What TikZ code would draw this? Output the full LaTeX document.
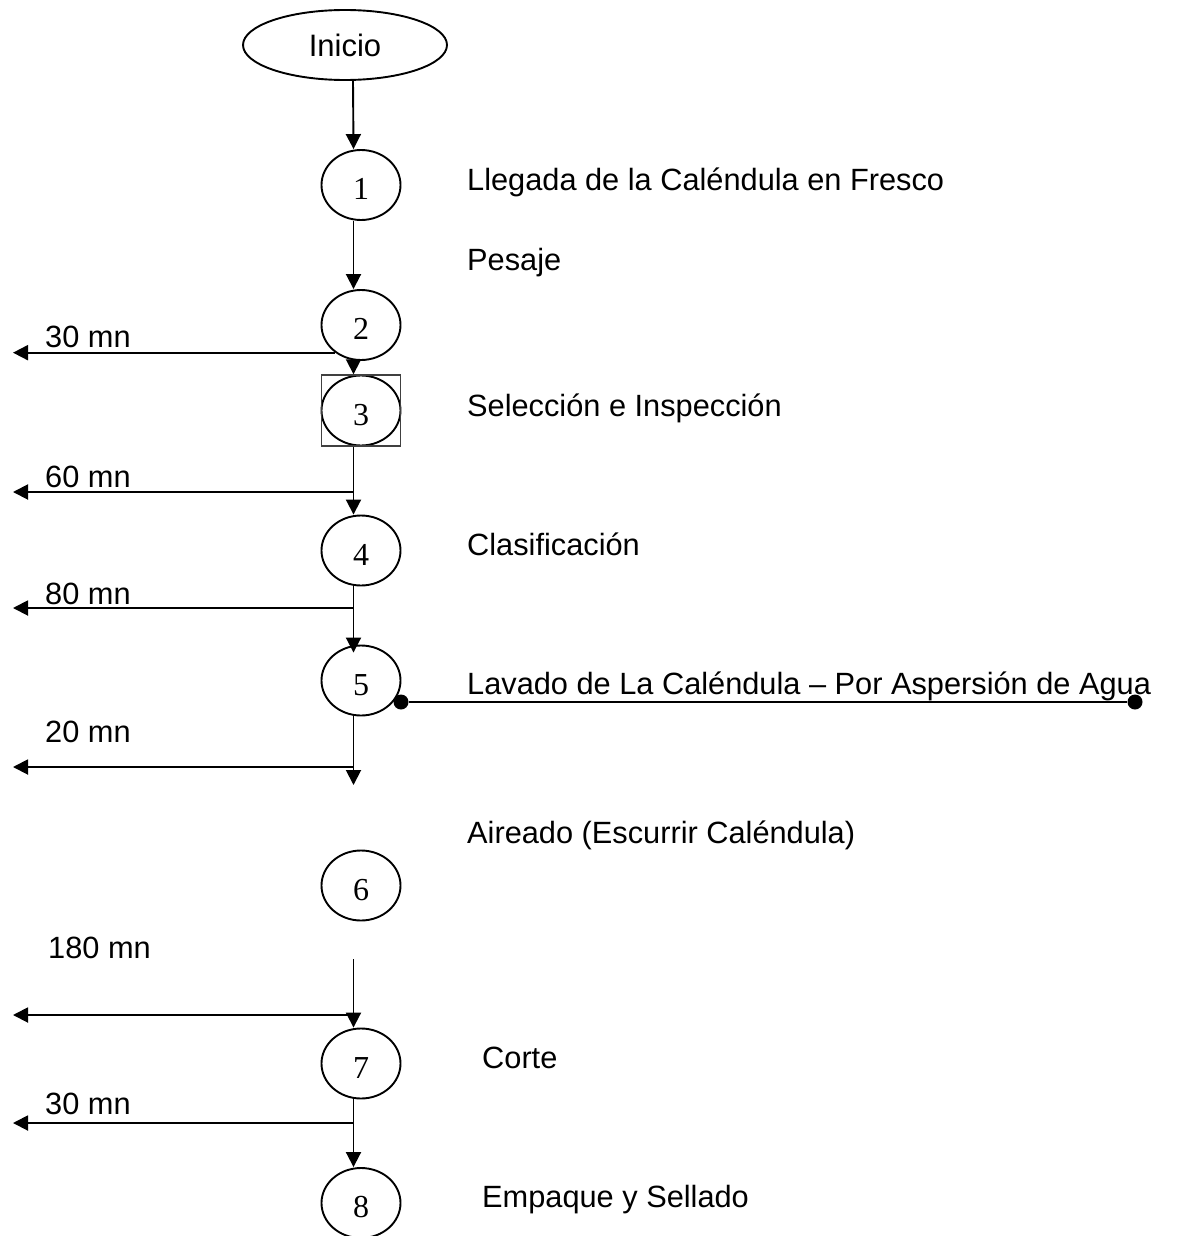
\documentclass[tikz,border=0pt]{standalone}
\usepackage{fontspec}
\setmainfont{Liberation Sans}
\newfontfamily\numfont{Liberation Serif}
\usetikzlibrary{arrows.meta,shapes.geometric}

\begin{document}
\begin{tikzpicture}[
  x=1pt, y=-1pt,
  lw/.style={line width=1.9pt},
  term/.style={draw, lw, ellipse, minimum width=204pt, minimum height=70pt,
    inner sep=0pt, font=\fontsize{31}{36}\selectfont},
  op/.style={draw, lw, ellipse, minimum width=79pt, minimum height=70pt,
    inner sep=0pt, text height=29pt, text depth=0pt,
    font=\numfont\fontsize{32pt}{36pt}\selectfont},
  insp/.style={draw=black!75, line width=1.4pt, minimum width=79pt,
    minimum height=71pt, inner sep=0pt},
  lbl/.style={anchor=base west, inner sep=0pt,
    font=\fontsize{30.75}{36}\selectfont},
  tm/.style={lbl},
  dot/.style={circle, fill=black, minimum size=15pt, inner sep=0pt},
  ar/.style={-{Triangle[length=15pt,width=15pt]}, lw}
]
\useasboundingbox (0,0) rectangle (1176,1236);

% operaciones
\node[term] (ini) at (345,45) {Inicio};
\node[op] (c1) at (361,185) {1};
\node[op] (c2) at (361,325) {2};
\node[op] (c3) at (361,410.5) {3};
\node[insp] (sq3) at (c3) {};
\node[op] (c4) at (361,550.5) {4};
\node[op] (c5) at (361,680.5) {5};
\node[op] (c6) at (361,885.5) {6};
\node[op] (c7) at (361,1063.5) {7};
\node[op] (c8) at (361,1203) {8};

% descripciones
\node[lbl] (t1) at (467,190) {Llegada de la Caléndula en Fresco};
\node[lbl] (t2) at (467,270) {Pesaje};
\node[lbl] (t3) at (467,416) {Selección e Inspección};
\node[lbl] (t4) at (467,555) {Clasificación};
\node[lbl] (t5) at (467,694) {Lavado de La Caléndula – Por Aspersión de Agua};
\node[lbl] (t6) at (467,843) {Aireado (Escurrir Caléndula)};
\node[lbl] (t7) at (482,1068) {Corte};
\node[lbl] (t8) at (482,1207) {Empaque y Sellado};

% tiempos
\node[tm] (m2) at (45,347) {30 mn};
\node[tm] (m3) at (45,487) {60 mn};
\node[tm] (m4) at (45,604) {80 mn};
\node[tm] (m5) at (45,742) {20 mn};
\node[tm] (m6) at (48,958) {180 mn};
\node[tm] (m7) at (45,1114) {30 mn};

\coordinate (lft) at (13,0);
\coordinate (j3) at (353.5,492);
\coordinate (j4) at (353.5,608);
\coordinate (j5) at (353.5,767);
\coordinate (e5) at (353.5,785);
\coordinate (s6) at (353.5,959);
\coordinate (j6) at (353.5,1015);
\coordinate (j7) at (353.5,1123);

\draw[ar] ([xshift=8pt]ini.south) -- ([xshift=-7.5pt]c1.north);
\draw[ar] ([xshift=-7.5pt]c1.south) -- ([xshift=-7.5pt]c2.north);
\draw[ar] ([xshift=-7.5pt]c2.south) -- ([xshift=-7.5pt]sq3.north);
\draw[ar] (c2.227) -- (c2.227 -| lft);
\draw[ar] ([xshift=-7.5pt]sq3.south) -- ([xshift=-7.5pt]c4.north);
\draw[ar] (j3) -- (j3 -| lft);
\draw[ar] ([xshift=-7.5pt]c4.south) -- ([xshift=-7.5pt,yshift=-8pt]c5.north);
\draw[ar] (j4) -- (j4 -| lft);
\draw[ar] ([xshift=-7.5pt]c5.south) -- (e5);
\draw[ar] (j5) -- (j5 -| lft);
\draw[ar] (s6) -- ([xshift=-7.5pt]c7.north);
\draw[ar] (j6) -- (j6 -| lft);
\draw[ar] ([xshift=-7.5pt]c7.south) -- ([xshift=-7.5pt]c8.north);
\draw[ar] (j7) -- (j7 -| lft);

% aspersion
\node[dot] (d1) at (401,702) {};
\node[dot] (d2) at (1135,702) {};
\draw[lw] (d1) -- (d2);
\end{tikzpicture}
\end{document}
